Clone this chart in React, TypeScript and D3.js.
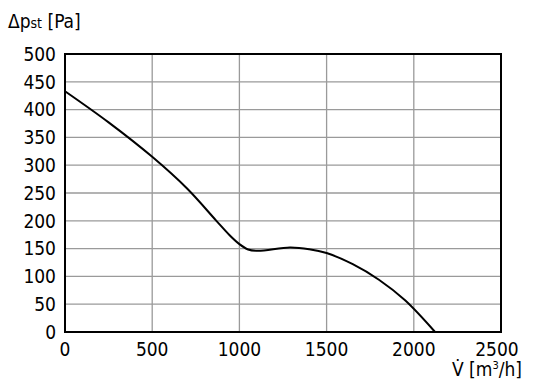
import React from "react";
import * as d3 from "d3";

const flowValues = [0, 250, 500, 700, 868, 944, 1000, 1050, 1106, 1290, 1400, 1500, 1650, 1800, 1950, 2122];
const pressureValues = [433, 377, 315, 258, 200, 174, 158, 148.5, 146, 152, 149, 142, 122, 94, 57, 0];
const xTicks = [0, 500, 1000, 1500, 2000, 2500];
const yTicks = [0, 50, 100, 150, 200, 250, 300, 350, 400, 450, 500];

const W = 536, H = 388;
const L = 65, R = 501, T = 54, B = 332;
const FONT = "'DejaVu Sans Condensed', 'Liberation Sans Narrow', sans-serif";

export default function App() {
  const x = d3.scaleLinear().domain([0, 2500]).range([L, R]);
  const y = d3.scaleLinear().domain([0, 500]).range([B, T]);
  const pts: [number, number][] = flowValues.map((f, i) => [f, pressureValues[i]]);
  const line = d3.line<[number, number]>().x(d => x(d[0])).y(d => y(d[1])).curve(d3.curveCatmullRom.alpha(0.5));
  return (
    <svg width={W} height={H} style={{ position: "absolute", left: 0, top: 0, background: "#fff" }} fontFamily={FONT}>
      <rect x={0} y={0} width={W} height={H} fill="#fff" />
      {xTicks.slice(1, -1).map(t => (
        <line key={"gx" + t} x1={x(t)} x2={x(t)} y1={T} y2={B} stroke="#9a9a9a" strokeWidth={1.3} />
      ))}
      {yTicks.slice(1, -1).map(t => (
        <line key={"gy" + t} x1={L} x2={R} y1={y(t)} y2={y(t)} stroke="#9a9a9a" strokeWidth={1.3} />
      ))}
      <path d={line(pts) || ""} fill="none" stroke="#000" strokeWidth={2} />
      <rect x={L} y={T} width={R - L} height={B - T} fill="none" stroke="#000" strokeWidth={2} />
      {yTicks.map(t => (
        <text key={"ly" + t} x={56} y={y(t)} dy="0.36em" textAnchor="end" fontSize={19} fill="#000">{t}</text>
      ))}
      {xTicks.map(t => (
        <text key={"lx" + t} x={t === 2500 ? x(t) - 4 : x(t)} y={356} textAnchor="middle" fontSize={19} fill="#000">{t}</text>
      ))}
      <text x={8} y={28} fontSize={19} fill="#000">
        Δp<tspan fontSize={14}>st</tspan> [Pa]
      </text>
      <text x={522} y={376} textAnchor="end" fontSize={19} fill="#000">
        V̇ [m<tspan fontSize={11} dy={-7}>3</tspan><tspan dy={7}>/h]</tspan>
      </text>
    </svg>
  );
}
